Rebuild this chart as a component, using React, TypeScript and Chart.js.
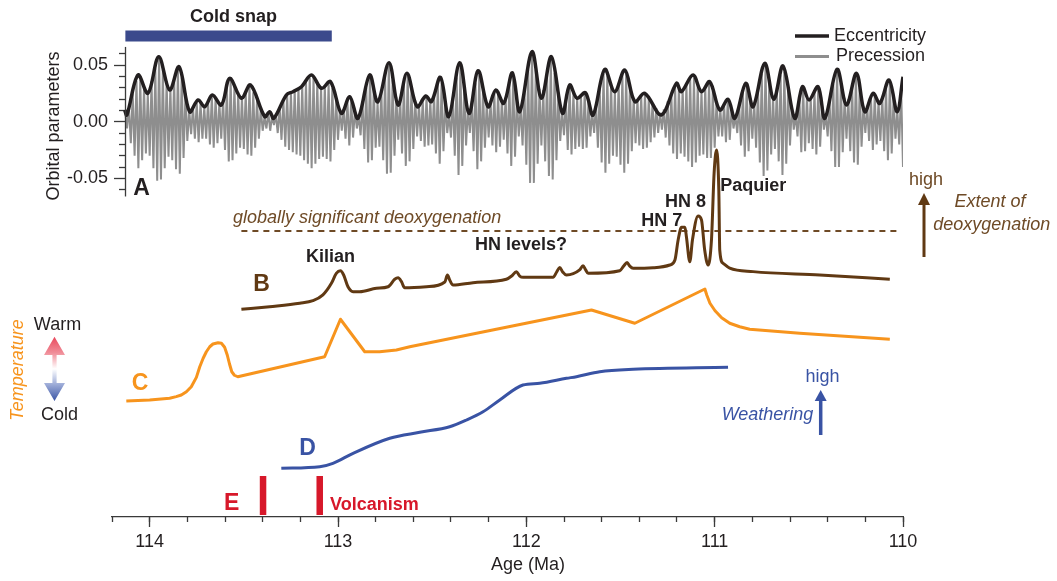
import React, { useEffect, useRef } from 'react';
import { Chart, registerables } from 'chart.js';

Chart.register(...registerables);

// ---------------- DATA ----------------
// Age axis (Ma)
const AGE_MIN = 110;
const AGE_MAX = 114.2;
const X_MAJOR_TICKS = [110, 111, 112, 113, 114];
const X_MINOR_TICKS = [114.2, 114, 113.8, 113.6, 113.4, 113.2, 113, 112.8, 112.6, 112.4, 112.2, 112, 111.8, 111.6, 111.4, 111.2, 111, 110.8, 110.6, 110.4, 110.2, 110];

// Orbital parameters axis
const ORB_MAJOR_TICKS = [-0.05, 0, 0.05];
const ORB_MINOR_TICKS = [-0.06, -0.04, -0.03, -0.02, -0.01, 0.01, 0.02, 0.03, 0.04, 0.06];

// A: Eccentricity (ages, values)
const ECC_AGES = [114.133, 114.121, 114.062, 114.009, 113.952, 113.894, 113.844, 113.788, 113.743, 113.708, 113.667, 113.619, 113.575, 113.513, 113.465, 113.389, 113.363, 113.341, 113.274, 113.239, 113.194, 113.141, 113.088, 113.040, 112.982, 112.938, 112.894, 112.832, 112.789, 112.729, 112.681, 112.634, 112.580, 112.534, 112.504, 112.456, 112.412, 112.354, 112.304, 112.256, 112.203, 112.162, 112.120, 112.074, 112.035, 111.970, 111.920, 111.867, 111.808, 111.770, 111.731, 111.686, 111.646, 111.584, 111.531, 111.477, 111.424, 111.371, 111.283, 111.203, 111.177, 111.115, 111.070, 111.026, 110.973, 110.929, 110.893, 110.835, 110.796, 110.734, 110.686, 110.637, 110.575, 110.534, 110.499, 110.451, 110.415, 110.350, 110.300, 110.247, 110.203, 110.159, 110.123, 110.074, 110.031, 110.000];
const ECCENTRICITY = [.0103, .0059, .0412, .0251, .0574, .0280, .0485, .0088, .0192, .0132, .0236, .0147, .0383, .0207, .0324, .0044, .0088, .0030, .0236, .0265, .0309, .0412, .0295, .0353, .0074, .0221, .0030, .0412, .0174, .0521, .0147, .0427, .0132, .0227, .0177, .0392, .0044, .0521, .0074, .0450, .0132, .0280, .0162, .0432, .0088, .0618, .0207, .0574, .0074, .0324, .0207, .0256, .0059, .0462, .0265, .0456, .0177, .0250, .0059, .0339, .0265, .0412, .0265, .0353, .0103, .0198, .0030, .0339, .0132, .0515, .0198, .0492, .0030, .0309, .0192, .0309, .0030, .0462, .0147, .0427, .0088, .0251, .0162, .0368, .0088, .0397];

// A: Precession, one value every 0.01 Ma starting at 114.13 Ma
const PREC_START_AGE = 114.13;
const PREC_STEP = 0.01;
const PRECESSION = [
  .009, -.006, .013, -.019, .025, -.030, .036, -.041, .037, -.034,
  .031, -.028, .025, -.030, .036, -.041, .047, -.052, .057, -.051,
  .046, -.041, .036, -.031, .030, -.034, .038, -.042, .046, -.046,
  .039, -.032, .025, -.017, .010, -.011, .013, -.015, .017, -.018,
  .017, -.015, .013, -.015, .018, -.020, .023, -.023, .021, -.019,
  .017, -.015, .020, -.025, .030, -.035, .037, -.034, .031, -.028,
  .026, -.023, .022, -.024, .026, -.029, .031, -.030, .026, -.023,
  .019, -.015, .012, -.008, .004, -.006, .008, -.008, .005, -.003,
  .006, -.010, .013, -.016, .019, -.022, .024, -.025, .026, -.027,
  .028, -.029, .030, -.030, .032, -.034, .036, -.037, .039, -.041,
  .039, -.037, .035, -.033, .030, -.031, .032, -.033, .034, -.035,
  .030, -.025, .020, -.016, .011, -.008, .011, -.015, .018, -.021,
  .019, -.014, .010, -.006, .005, -.012, .018, -.024, .030, -.036,
  .040, -.034, .029, -.023, .017, -.022, .028, -.034, .040, -.046,
  .052, -.045, .037, -.030, .022, -.016, .021, -.028, .033, -.039,
  .041, -.035, .030, -.024, .019, -.013, .015, -.017, .019, -.022,
  .022, -.021, .019, -.020, .024, -.028, .033, -.037, .034, -.026,
  .018, -.010, .006, -.014, .022, -.030, .039, -.047, .048, -.039,
  .030, -.021, .012, -.010, .018, -.026, .034, -.042, .041, -.035,
  .029, -.023, .017, -.014, .018, -.021, .025, -.027, .025, -.022,
  .019, -.016, .022, -.028, .034, -.039, .040, -.031, .022, -.013,
  .013, -.021, .029, -.038, .046, -.054, .062, -.054, .046, -.037,
  .029, -.021, .028, -.035, .041, -.048, .055, -.051, .043, -.034,
  .026, -.017, .009, -.012, .019, -.025, .032, -.029, .026, -.024,
  .021, -.022, .023, -.024, .026, -.023, .018, -.013, .008, -.010,
  .016, -.023, .029, -.036, .042, -.045, .041, -.037, .034, -.030,
  .027, -.031, .034, -.038, .041, -.045, .042, -.037, .032, -.026,
  .021, -.019, .020, -.021, .022, -.024, .025, -.023, .020, -.018,
  .016, -.014, .012, -.010, .008, -.007, .011, -.014, .018, -.021,
  .024, -.028, .031, -.033, .030, -.028, .029, -.031, .033, -.035,
  .038, -.040, .039, -.036, .033, -.030, .027, -.029, .031, -.032,
  .034, -.032, .027, -.023, .018, -.013, .011, -.013, .015, -.018,
  .020, -.016, .011, -.006, .005, -.010, .015, -.021, .026, -.031,
  .031, -.026, .021, -.015, .017, -.023, .029, -.036, .042, -.048,
  .049, -.043, .036, -.029, .023, -.024, .030, -.035, .041, -.047,
  .044, -.037, .029, -.021, .014, -.007, .006, -.013, .020, -.027,
  .030, -.026, .023, -.019, .021, -.024, .026, -.029, .030, -.022,
  .015, -.007, .006, -.013, .019, -.026, .033, -.040, .046, -.040,
  .034, -.027, .021, -.015, .020, -.026, .031, -.036, .041, -.038,
  .030, -.022, .014, -.010, .014, -.017, .021, -.025, .023, -.020,
  .018, -.017, .022, -.026, .030, -.034, .034, -.028, .021, -.015,
  .010, -.020, .030, -.040
];

// Cold snap interval (Ma)
const COLD_SNAP_AGES = [114.129, 113.033];
const COLD_SNAP_LEVEL = 0.0756;

// B: Extent of deoxygenation (relative units)
const DEOX_AGES = [113.513, 113.363, 113.203, 113.133, 113.080, 113.035, 113.009, 112.987, 112.970, 112.947, 112.920, 112.885, 112.796, 112.734, 112.699, 112.681, 112.663, 112.646, 112.530, 112.433, 112.419, 112.407, 112.389, 112.283, 112.106, 112.078, 112.053, 112.035, 112.017, 111.858, 111.839, 111.823, 111.807, 111.787, 111.717, 111.699, 111.685, 111.672, 111.504, 111.483, 111.465, 111.451, 111.433, 111.327, 111.238, 111.211, 111.194, 111.176, 111.158, 111.150, 111.132, 111.118, 111.088, 111.070, 111.053, 111.035, 111.017, 111.003, 110.990, 110.978, 110.973, 110.955, 110.920, 110.796, 110.442, 110.070];
const DEOXYGENATION = [3.9, 5.5, 7.5, 9.0, 12.4, 19.2, 25.1, 26.6, 24.1, 17.2, 14.3, 14.3, 16.3, 17.2, 21.6, 22.5, 20.2, 16.6, 17.2, 20.0, 24.1, 21.2, 18.2, 19.6, 21.6, 23.5, 26.1, 23.5, 22.8, 22.8, 25.9, 28.6, 25.9, 24.1, 27.1, 29.6, 27.1, 25.1, 26.6, 29.4, 31.4, 29.4, 28.1, 28.4, 30.0, 32.9, 44.7, 52.2, 52.2, 46.6, 31.9, 44.7, 58.8, 56.5, 38.8, 30.0, 44.7, 83.9, 97.6, 74.1, 38.8, 31.0, 28.1, 26.1, 24.1, 21.6];
const THRESHOLD_AGES = [113.513, 110.035];
const THRESHOLD_LEVEL = 50;

// C: Temperature (relative units)
const TEMP_AGES = [114.124, 114.0, 113.894, 113.859, 113.832, 113.805, 113.779, 113.752, 113.734, 113.716, 113.699, 113.681, 113.664, 113.637, 113.619, 113.602, 113.588, 113.576, 113.564, 113.550, 113.532, 113.071, 112.987, 112.858, 112.779, 112.690, 112.619, 111.654, 111.424, 111.052, 111.042, 111.025, 110.998, 110.963, 110.920, 110.867, 110.814, 110.548, 110.070];
const TEMPERATURE = [7.2, 8.0, 9.4, 10.7, 12.0, 14.6, 18.6, 26.1, 34.6, 41.4, 46.6, 50.6, 52.8, 53.8, 53.4, 50.2, 44.0, 36.8, 30.6, 27.8, 26.6, 42.6, 72.6, 46.6, 46.6, 48.0, 50.6, 80.0, 69.4, 96.8, 92.0, 85.4, 79.4, 73.8, 69.4, 66.6, 64.6, 61.4, 56.6];

// D: Weathering (relative units)
const WEATHER_AGES = [113.301, 113.097, 113.027, 112.920, 112.725, 112.566, 112.407, 112.318, 112.230, 112.141, 112.018, 111.929, 111.787, 111.734, 111.610, 111.433, 110.929];
const WEATHERING = [6.1, 7.5, 10.6, 19.7, 33.4, 38.8, 43.9, 50.0, 57.5, 68.2, 81.8, 83.4, 87.9, 89.4, 93.9, 96.1, 97.9];

// E: Volcanism pulses (Ma)
const VOLCANISM_AGES = [113.398, 113.097];

// ---------------- STYLE ----------------
const FONT = '"Liberation Sans", Arial, Helvetica, sans-serif';
const INK = '#231f20';
const AXIS = '#3a3a3a';
const BROWN = '#603913';
const BROWN_TEXT = '#6e4a26';
const ORANGE = '#f7941d';
const BLUE = '#3953a4';
const RED = '#d7182a';
const NAVY = '#3b4a8c';
const GRAY = '#8e8e8e';

const ORB_AXIS_AGE = 114.133;   // where the orbital spine sits
const ORB_LABEL_AGE = 114.221;  // right edge of the orbital tick labels
const ORB_AXIS_TOP = 0.066;
const ORB_AXIS_BOTTOM = -0.066;

const pts = (xs: number[], ys: number[]) => xs.map((x, i) => ({ x, y: ys[i] }));

function drawText(ctx: CanvasRenderingContext2D, s: string, x: number, y: number, o: any = {}) {
  ctx.save();
  ctx.font = `${o.style || 'normal'} ${o.weight || 'normal'} ${o.size || 18}px ${FONT}`;
  ctx.fillStyle = o.color || INK;
  ctx.textAlign = o.align || 'center';
  ctx.textBaseline = 'middle';
  ctx.translate(x, y);
  if (o.rotate) ctx.rotate(o.rotate);
  if (o.halo) {
    ctx.strokeStyle = o.halo;
    ctx.lineWidth = 3;
    ctx.lineJoin = 'round';
    ctx.strokeText(s, 0, 0);
  }
  ctx.fillText(s, 0, 0);
  ctx.restore();
}

function drawArrow(ctx: CanvasRenderingContext2D, x: number, yBottom: number, yTip: number, headLen: number, headHalf: number, color: string, width: number) {
  ctx.save();
  ctx.strokeStyle = color;
  ctx.fillStyle = color;
  ctx.lineWidth = width;
  ctx.beginPath();
  ctx.moveTo(x, yBottom);
  ctx.lineTo(x, yTip + headLen - 1);
  ctx.stroke();
  ctx.beginPath();
  ctx.moveTo(x, yTip);
  ctx.lineTo(x - headHalf, yTip + headLen);
  ctx.lineTo(x + headHalf, yTip + headLen);
  ctx.closePath();
  ctx.fill();
  ctx.restore();
}

const annotationPlugin = {
  id: 'figureAnnotations',
  afterDraw(chart: any) {
    const ctx: CanvasRenderingContext2D = chart.ctx;
    const xs = chart.scales.x;
    const yo = chart.scales.yOrb;
    ctx.save();

    // orbital axis spine
    const ax = Math.round(xs.getPixelForValue(ORB_AXIS_AGE)) + 0.5;
    ctx.strokeStyle = AXIS;
    ctx.lineWidth = 1.3;
    ctx.beginPath();
    ctx.moveTo(ax, yo.getPixelForValue(ORB_AXIS_TOP));
    ctx.lineTo(ax, yo.getPixelForValue(ORB_AXIS_BOTTOM));
    ctx.stroke();

    // legend
    ctx.lineWidth = 3.5;
    ctx.strokeStyle = INK;
    ctx.beginPath(); ctx.moveTo(795, 36); ctx.lineTo(829, 36); ctx.stroke();
    ctx.lineWidth = 3;
    ctx.strokeStyle = GRAY;
    ctx.beginPath(); ctx.moveTo(795, 56.5); ctx.lineTo(829, 56.5); ctx.stroke();
    drawText(ctx, 'Eccentricity', 834, 36, { align: 'left' });
    drawText(ctx, 'Precession', 836, 56, { align: 'left' });

    drawText(ctx, 'Cold snap', 233.5, 16.6, { weight: 'bold' });
    drawText(ctx, 'Orbital parameters', 54, 126, { rotate: -Math.PI / 2 });
    drawText(ctx, 'A', 141.5, 188.5, { weight: 'bold', size: 23, halo: '#ffffff' });

    drawText(ctx, 'globally significant deoxygenation', 233, 218, { align: 'left', style: 'italic', color: BROWN_TEXT });
    drawText(ctx, 'Kilian', 330.5, 257.5, { weight: 'bold' });
    drawText(ctx, 'HN levels?', 521, 245.4, { weight: 'bold' });
    drawText(ctx, 'HN 7', 661.7, 221, { weight: 'bold' });
    drawText(ctx, 'HN 8', 685.5, 202, { weight: 'bold' });
    drawText(ctx, 'Paquier', 753.3, 186, { weight: 'bold' });
    drawText(ctx, 'B', 261.5, 285, { weight: 'bold', size: 23, color: BROWN });

    drawText(ctx, 'high', 926, 180, { color: BROWN_TEXT });
    drawArrow(ctx, 924, 257, 193, 12, 6, BROWN, 3);
    drawText(ctx, 'Extent of', 990, 202, { style: 'italic', color: BROWN_TEXT });
    drawText(ctx, 'deoxygenation', 991.7, 224.5, { style: 'italic', color: BROWN_TEXT });

    // temperature key
    drawText(ctx, 'Warm', 57.5, 325);
    drawText(ctx, 'Cold', 59.5, 415);
    drawText(ctx, 'Temperature', 18, 370, { rotate: -Math.PI / 2, style: 'italic', color: ORANGE });
    const g = ctx.createLinearGradient(0, 336.7, 0, 401);
    g.addColorStop(0, '#e9485c');
    g.addColorStop(0.25, '#f08d98');
    g.addColorStop(0.5, '#ffffff');
    g.addColorStop(0.75, '#9aa9d6');
    g.addColorStop(1, '#3a55a5');
    ctx.fillStyle = g;
    ctx.beginPath();
    ctx.moveTo(54.5, 336.7);
    ctx.lineTo(65, 355);
    ctx.lineTo(56.6, 355);
    ctx.lineTo(56.6, 383);
    ctx.lineTo(65, 383);
    ctx.lineTo(54.5, 401);
    ctx.lineTo(44, 383);
    ctx.lineTo(52.4, 383);
    ctx.lineTo(52.4, 355);
    ctx.lineTo(44, 355);
    ctx.closePath();
    ctx.fill();
    drawText(ctx, 'C', 140, 383.3, { weight: 'bold', size: 23, color: ORANGE });

    // weathering key
    drawText(ctx, 'high', 822.5, 377, { color: BLUE });
    drawArrow(ctx, 820.7, 435, 390, 11, 6, BLUE, 3.5);
    drawText(ctx, 'Weathering', 767.5, 414.7, { style: 'italic', color: BLUE });
    drawText(ctx, 'D', 307.5, 448.3, { weight: 'bold', size: 23, color: BLUE });

    drawText(ctx, 'E', 231.7, 504, { weight: 'bold', size: 23, color: RED });
    drawText(ctx, 'Volcanism', 330, 505, { align: 'left', weight: 'bold', color: RED });

    drawText(ctx, 'Age (Ma)', 528, 565);
    ctx.restore();
  },
};

export default function App() {
  const ref = useRef<HTMLCanvasElement>(null);

  useEffect(() => {
    document.body.style.margin = '0';
    document.body.style.overflow = 'hidden';
    const canvas = ref.current as HTMLCanvasElement;

    Chart.defaults.font.family = FONT;
    Chart.defaults.color = INK;

    // vertical placement of the scales (chart area 20..517 px)
    const ORB_MAX = 0.08976, ORB_MIN = -0.3489;

    const precData = PRECESSION.map((v, i) => ({ x: PREC_START_AGE - i * PREC_STEP, y: v }));
    const volcData: any[] = [];
    VOLCANISM_AGES.forEach((a, i) => {
      if (i > 0) volcData.push({ x: (a + VOLCANISM_AGES[i - 1]) / 2, y: null });
      volcData.push({ x: a, y: 0 }, { x: a, y: 1 });
    });

    const common = { xAxisID: 'x', pointRadius: 0, fill: false };
    const orbScale = (extra: any) => ({
      type: 'linear',
      min: ORB_MIN,
      max: ORB_MAX,
      afterFit: (s: any) => { s.width = 0; },
      border: { display: false },
      ...extra,
    });

    const chart = new Chart(canvas, {
      type: 'line',
      data: {
        datasets: [
          { ...common, label: 'Precession', yAxisID: 'yOrb', data: precData, borderColor: GRAY, borderWidth: 2, tension: 0, borderJoinStyle: 'bevel', order: 20 },
          { ...common, label: 'Eccentricity', yAxisID: 'yOrb', data: pts(ECC_AGES, ECCENTRICITY), borderColor: INK, borderWidth: 3.5, tension: 0.35, order: 19 },
          { ...common, label: 'Cold snap', yAxisID: 'yOrb', data: COLD_SNAP_AGES.map((a) => ({ x: a, y: COLD_SNAP_LEVEL })), borderColor: NAVY, borderWidth: 11, borderCapStyle: 'butt', order: 18 },
          { ...common, label: 'Threshold', yAxisID: 'yB', data: THRESHOLD_AGES.map((a) => ({ x: a, y: THRESHOLD_LEVEL })), borderColor: BROWN_TEXT, borderWidth: 1.8, borderDash: [6, 5], order: 17 },
          { ...common, label: 'Deoxygenation', yAxisID: 'yB', data: pts(DEOX_AGES, DEOXYGENATION), borderColor: BROWN, borderWidth: 3, cubicInterpolationMode: 'monotone', order: 16 },
          { ...common, label: 'Temperature', yAxisID: 'yC', data: pts(TEMP_AGES, TEMPERATURE), borderColor: ORANGE, borderWidth: 3, tension: 0, borderJoinStyle: 'round', order: 15 },
          { ...common, label: 'Weathering', yAxisID: 'yD', data: pts(WEATHER_AGES, WEATHERING), borderColor: BLUE, borderWidth: 3, cubicInterpolationMode: 'monotone', order: 14 },
          { ...common, label: 'Volcanism', yAxisID: 'yE', data: volcData, borderColor: RED, borderWidth: 6.5, borderCapStyle: 'butt', spanGaps: false, order: 13 },
        ] as any,
      },
      options: {
        responsive: false,
        devicePixelRatio: 1,
        animation: false,
        events: [],
        layout: { padding: { top: 20, left: 112, right: 154, bottom: 0 } },
        plugins: { legend: { display: false }, tooltip: { enabled: false } },
        scales: {
          x: {
            type: 'linear',
            min: AGE_MIN,
            max: AGE_MAX,
            reverse: true,
            position: 'bottom',
            afterBuildTicks: (s: any) => { s.ticks = X_MAJOR_TICKS.map((v) => ({ value: v })); },
            afterFit: (s: any) => { s.height = 64; },
            ticks: { font: { size: 18 }, color: INK, padding: 4, maxRotation: 0, callback: (v: any) => String(v) },
            grid: { drawOnChartArea: false, tickLength: 10, tickColor: AXIS, tickWidth: 1.3 },
            border: { display: true, color: AXIS, width: 1.3 },
          },
          xMinor: {
            type: 'linear',
            min: AGE_MIN,
            max: AGE_MAX,
            reverse: true,
            position: { yOrb: ORB_MIN },
            afterBuildTicks: (s: any) => { s.ticks = X_MINOR_TICKS.map((v) => ({ value: v })); },
            afterFit: (s: any) => { s.height = 0; },
            ticks: { display: false },
            grid: { drawOnChartArea: false, tickLength: 5, tickColor: AXIS, tickWidth: 1.3 },
            border: { display: false },
          },
          // labels of the orbital axis
          yOrb: orbScale({
            position: { x: ORB_LABEL_AGE },
            afterBuildTicks: (s: any) => { s.ticks = ORB_MAJOR_TICKS.map((v) => ({ value: v })); },
            ticks: { font: { size: 18 }, color: INK, padding: 0, callback: (v: any) => Number(v).toFixed(2) },
            grid: { display: false },
          }),
          // major tick marks of the orbital axis
          yOrbMajor: orbScale({
            position: { x: ORB_AXIS_AGE },
            afterBuildTicks: (s: any) => { s.ticks = ORB_MAJOR_TICKS.map((v) => ({ value: v })); },
            ticks: { display: false },
            grid: { drawOnChartArea: false, tickLength: 11, tickColor: AXIS, tickWidth: 1.3 },
          }),
          // minor tick marks of the orbital axis
          yOrbMinor: orbScale({
            position: { x: ORB_AXIS_AGE },
            afterBuildTicks: (s: any) => { s.ticks = ORB_MINOR_TICKS.map((v) => ({ value: v })); },
            ticks: { display: false },
            grid: { drawOnChartArea: false, tickLength: 6, tickColor: AXIS, tickWidth: 1.3 },
          }),
          yB: { type: 'linear', display: false, min: -118.24, max: 174.12 },
          yC: { type: 'linear', display: false, min: -85.6, max: 312 },
          yD: { type: 'linear', display: false, min: -38.18, max: 413.64 },
          yE: { type: 'linear', display: false, min: -0.0513, max: 12.692 },
        } as any,
      },
      plugins: [annotationPlugin],
    } as any);

    return () => chart.destroy();
  }, []);

  return (
    <canvas
      ref={ref}
      width={1057}
      height={581}
      style={{ display: 'block', width: '1057px', height: '581px' }}
    />
  );
}
